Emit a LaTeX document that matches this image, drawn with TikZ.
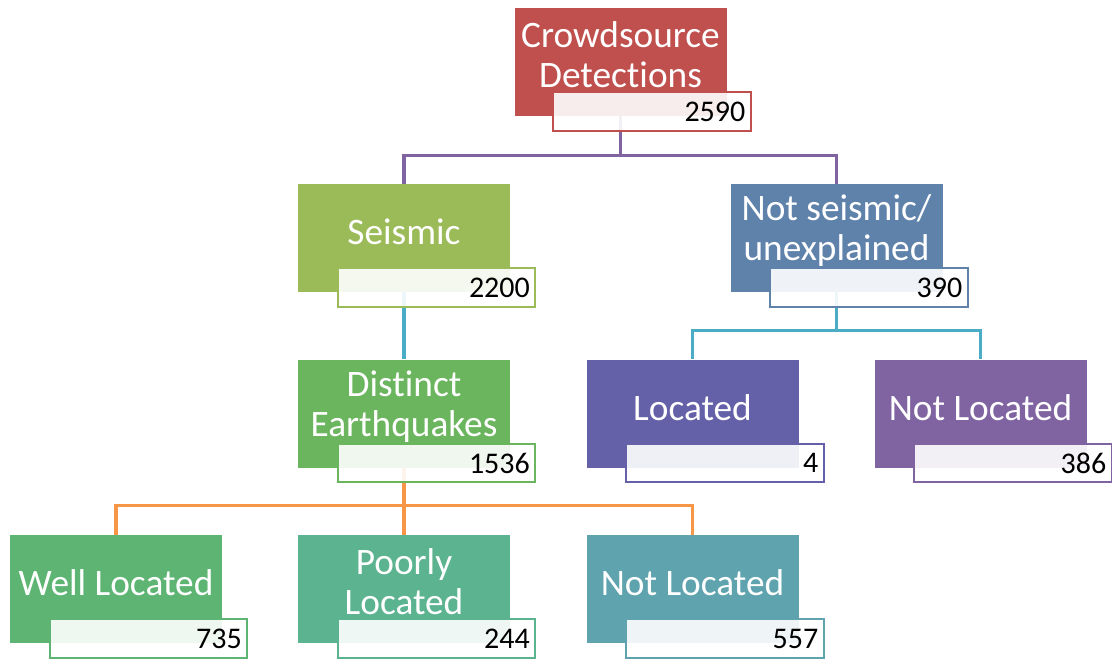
\documentclass[tikz,border=0pt]{standalone}
\usepackage{fontspec}
\setmainfont{Carlito}[Ligatures=NoCommon]
\definecolor{topred}{HTML}{C0504D}
\definecolor{seisgreen}{HTML}{9BBB59}
\definecolor{nsblue}{HTML}{5F82AB}
\definecolor{distgreen}{HTML}{6AB55D}
\definecolor{locpurple}{HTML}{6461A8}
\definecolor{nlpurple}{HTML}{8064A2}
\definecolor{wellgreen}{HTML}{5EB573}
\definecolor{poorteal}{HTML}{5CB38F}
\definecolor{nlteal}{HTML}{5FA3AF}
\definecolor{linepurple}{HTML}{8064A2}
\definecolor{lineblue}{HTML}{4BACC6}
\definecolor{lineorange}{HTML}{F79646}
\begin{document}
\begin{tikzpicture}[x=0.75pt,y=-0.75pt,
    catbox/.style={fill=#1, minimum width=159pt, minimum height=81pt, inner sep=0pt},
    cattext/.style={text=white, inner sep=0pt, align=center,
      font=\fontsize{28}{30}\selectfont},
    countbox/.style={fill=white, fill opacity=0.9, text opacity=1, draw=#1,
      line width=1.3pt, minimum width=147pt, minimum height=29pt, inner sep=4pt,
      text width=140pt, align=right, font=\fontsize{22.5}{24}\selectfont},
    joint/.style={line width=2.3pt, draw=#1}]
    \useasboundingbox (0,0) rectangle (1112,658);

    % Category boxes
    \node[catbox=topred] (crowd) at (620.5,62) {};
    \node[catbox=seisgreen] (seis) at (404,238) {};
    \node[catbox=nsblue] (notseis) at (836.5,238) {};
    \node[catbox=distgreen] (dist) at (404,413.5) {};
    \node[catbox=locpurple] (loc) at (692.5,413.5) {};
    \node[catbox=nlpurple] (notloc) at (980.5,413.5) {};
    \node[catbox=wellgreen] (well) at (116,589) {};
    \node[catbox=poorteal] (poor) at (404,589) {};
    \node[catbox=nlteal] (eqnotloc) at (692.5,589) {};

    % Category names
    \node[cattext] (crowd-t) at ([yshift=5.5pt]crowd.center) {Crowdsource\\Detections};
    \node[cattext] (seis-t) at ([yshift=4.5pt]seis.center) {Seismic};
    \node[cattext] (notseis-t) at ([yshift=5.5pt]notseis.center) {Not seismic/\\unexplained};
    \node[cattext] (dist-t) at ([yshift=5.5pt]dist.center) {Distinct\\Earthquakes};
    \node[cattext] (loc-t) at ([yshift=4.5pt]loc.center) {Located};
    \node[cattext] (notloc-t) at ([yshift=4.5pt]notloc.center) {Not Located};
    \node[cattext] (well-t) at ([yshift=4.5pt]well.center) {Well Located};
    \node[cattext] (poor-t) at ([yshift=5.5pt]poor.center) {Poorly\\Located};
    \node[cattext] (eqnotloc-t) at ([yshift=4.5pt]eqnotloc.center) {Not Located};

    % Connectors
    \draw[joint=linepurple] (crowd.south) -- ++(0,39) coordinate (j1) -| (seis.north);
    \draw[joint=linepurple] (j1) -| (notseis.north);
    \draw[joint=lineblue] (seis.south) -- (dist.north);
    \draw[joint=lineblue] (notseis.south) -- ++(0,38) coordinate (j2) -| (loc.north);
    \draw[joint=lineblue] (j2) -| (notloc.north);
    \draw[joint=lineorange] (dist.south) -- ++(0,38) coordinate (j3) -| (well.north);
    \draw[joint=lineorange] (j3) -| (poor.north);
    \draw[joint=lineorange] (j3) -| (eqnotloc.north);

    % Counts
    \node[countbox=topred] (ncrowd) at (652,111.5) {2590};
    \node[countbox=seisgreen] (nseis) at (436.5,287.5) {2200};
    \node[countbox=nsblue] (nnotseis) at (869,287.5) {390};
    \node[countbox=distgreen] (ndist) at (436.5,463) {1536};
    \node[countbox=locpurple] (nloc) at (725,463) {4};
    \node[countbox=nlpurple] (nnotloc) at (1013,463) {386};
    \node[countbox=wellgreen] (nwell) at (148.5,638.5) {735};
    \node[countbox=poorteal] (npoor) at (436.5,638.5) {244};
    \node[countbox=nlteal] (neqnotloc) at (725,638.5) {557};
\end{tikzpicture}
\end{document}
